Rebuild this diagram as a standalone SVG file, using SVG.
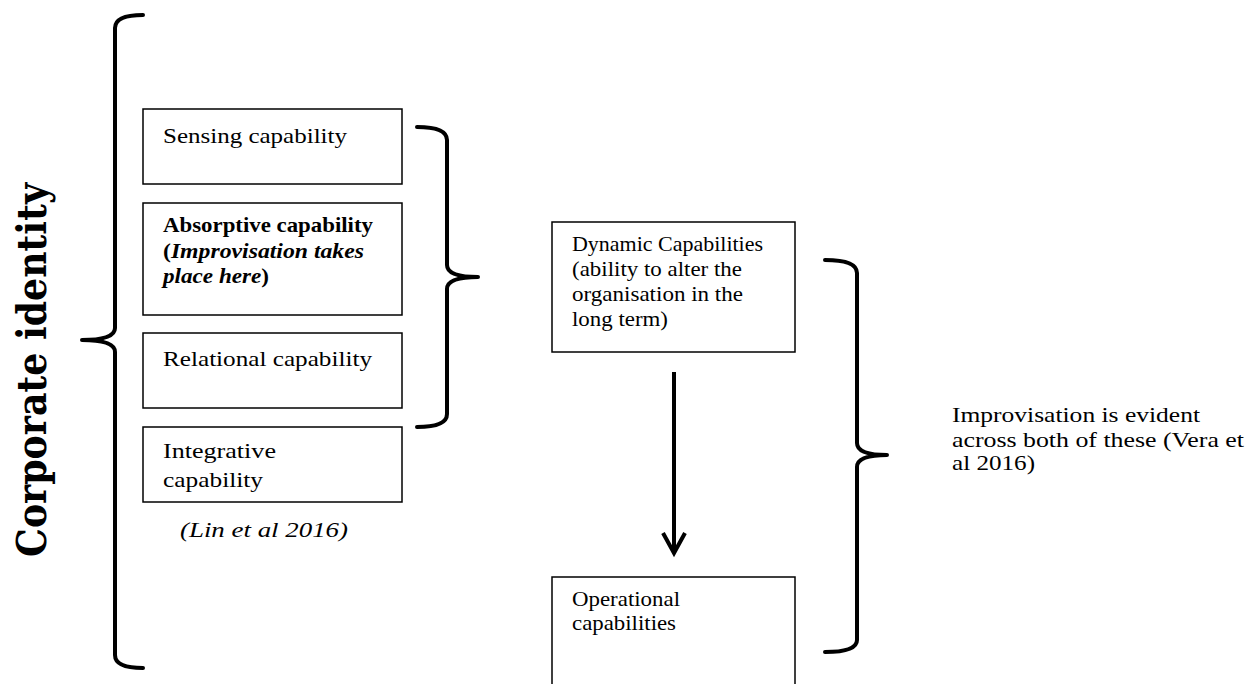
<svg xmlns="http://www.w3.org/2000/svg" width="1245" height="684" viewBox="0 0 1245 684">
<style>
.box{fill:#fff;stroke:#000;stroke-width:1.5}
.br{fill:none;stroke:#000;stroke-width:4;stroke-linecap:round;stroke-linejoin:round}
text{font-family:"Liberation Serif","DejaVu Serif",serif;font-size:22px;fill:#000}
.b{font-weight:bold}
.i{font-style:italic}
.big{font-family:"DejaVu Serif","Liberation Serif",serif;font-size:41px;font-weight:bold}
</style>
<rect width="1245" height="684" fill="#fff"/>
<g id="connectors">
<path class="br" d="M143,15 Q115,15 115,28 L115,328 Q115,340 82,340 Q115,340 115,352 L115,655 Q115,668 143,668"/>
<path class="br" d="M417,127 Q447,127 447,140 L447,265 Q447,277 478,277 Q447,277 447,289 L447,414 Q447,427 417,427"/>
<path class="br" d="M825,260 Q857,260 857,273 L857,443 Q857,455 887,455 Q857,455 857,467 L857,640 Q857,652 825,652"/>
<line x1="674" y1="372" x2="674" y2="552" stroke="#000" stroke-width="4"/>
<polyline points="663,533 674,553 685,533" fill="none" stroke="#000" stroke-width="4" stroke-linejoin="miter"/>
</g>
<g id="corporate-identity">
<text class="big" transform="translate(46,370) rotate(-90)" text-anchor="middle" textLength="374" lengthAdjust="spacingAndGlyphs">Corporate identity</text>
</g>
<g id="sensing">
<rect class="box" x="143" y="109" width="259" height="75"/>
<text x="163" y="143" textLength="184" lengthAdjust="spacingAndGlyphs">Sensing capability</text>
</g>
<g id="absorptive">
<rect class="box" x="143" y="203" width="259" height="112"/>
<text class="b" x="163" y="232" textLength="210" lengthAdjust="spacingAndGlyphs">Absorptive capability</text>
<text class="b" x="163" y="258" textLength="201" lengthAdjust="spacingAndGlyphs">(<tspan class="i">Improvisation takes</tspan></text>
<text class="b" x="163" y="283" textLength="106" lengthAdjust="spacingAndGlyphs"><tspan class="i">place here</tspan>)</text>
</g>
<g id="relational">
<rect class="box" x="143" y="333" width="259" height="75"/>
<text x="163" y="366" textLength="209" lengthAdjust="spacingAndGlyphs">Relational capability</text>
</g>
<g id="integrative">
<rect class="box" x="143" y="427" width="259" height="75"/>
<text x="163" y="458" textLength="113" lengthAdjust="spacingAndGlyphs">Integrative</text>
<text x="163" y="487" textLength="100" lengthAdjust="spacingAndGlyphs">capability</text>
</g>
<g id="lin-citation">
<text class="i" x="180" y="537" textLength="168" lengthAdjust="spacingAndGlyphs">(Lin et al 2016)</text>
</g>
<g id="dynamic">
<rect class="box" x="552" y="222" width="243" height="130"/>
<text x="572" y="251" textLength="191" lengthAdjust="spacingAndGlyphs">Dynamic Capabilities</text>
<text x="572" y="276" textLength="170" lengthAdjust="spacingAndGlyphs">(ability to alter the</text>
<text x="572" y="301" textLength="171" lengthAdjust="spacingAndGlyphs">organisation in the</text>
<text x="572" y="326" textLength="96" lengthAdjust="spacingAndGlyphs">long term)</text>
</g>
<g id="operational">
<rect class="box" x="552" y="577" width="243" height="120"/>
<text x="572" y="606" textLength="108" lengthAdjust="spacingAndGlyphs">Operational</text>
<text x="572" y="630" textLength="104" lengthAdjust="spacingAndGlyphs">capabilities</text>
</g>
<g id="vera-note">
<text x="952" y="422" textLength="248" lengthAdjust="spacingAndGlyphs">Improvisation is evident</text>
<text x="952" y="447" textLength="292" lengthAdjust="spacingAndGlyphs">across both of these (Vera et</text>
<text x="952" y="470" textLength="83" lengthAdjust="spacingAndGlyphs">al 2016)</text>
</g>
</svg>
